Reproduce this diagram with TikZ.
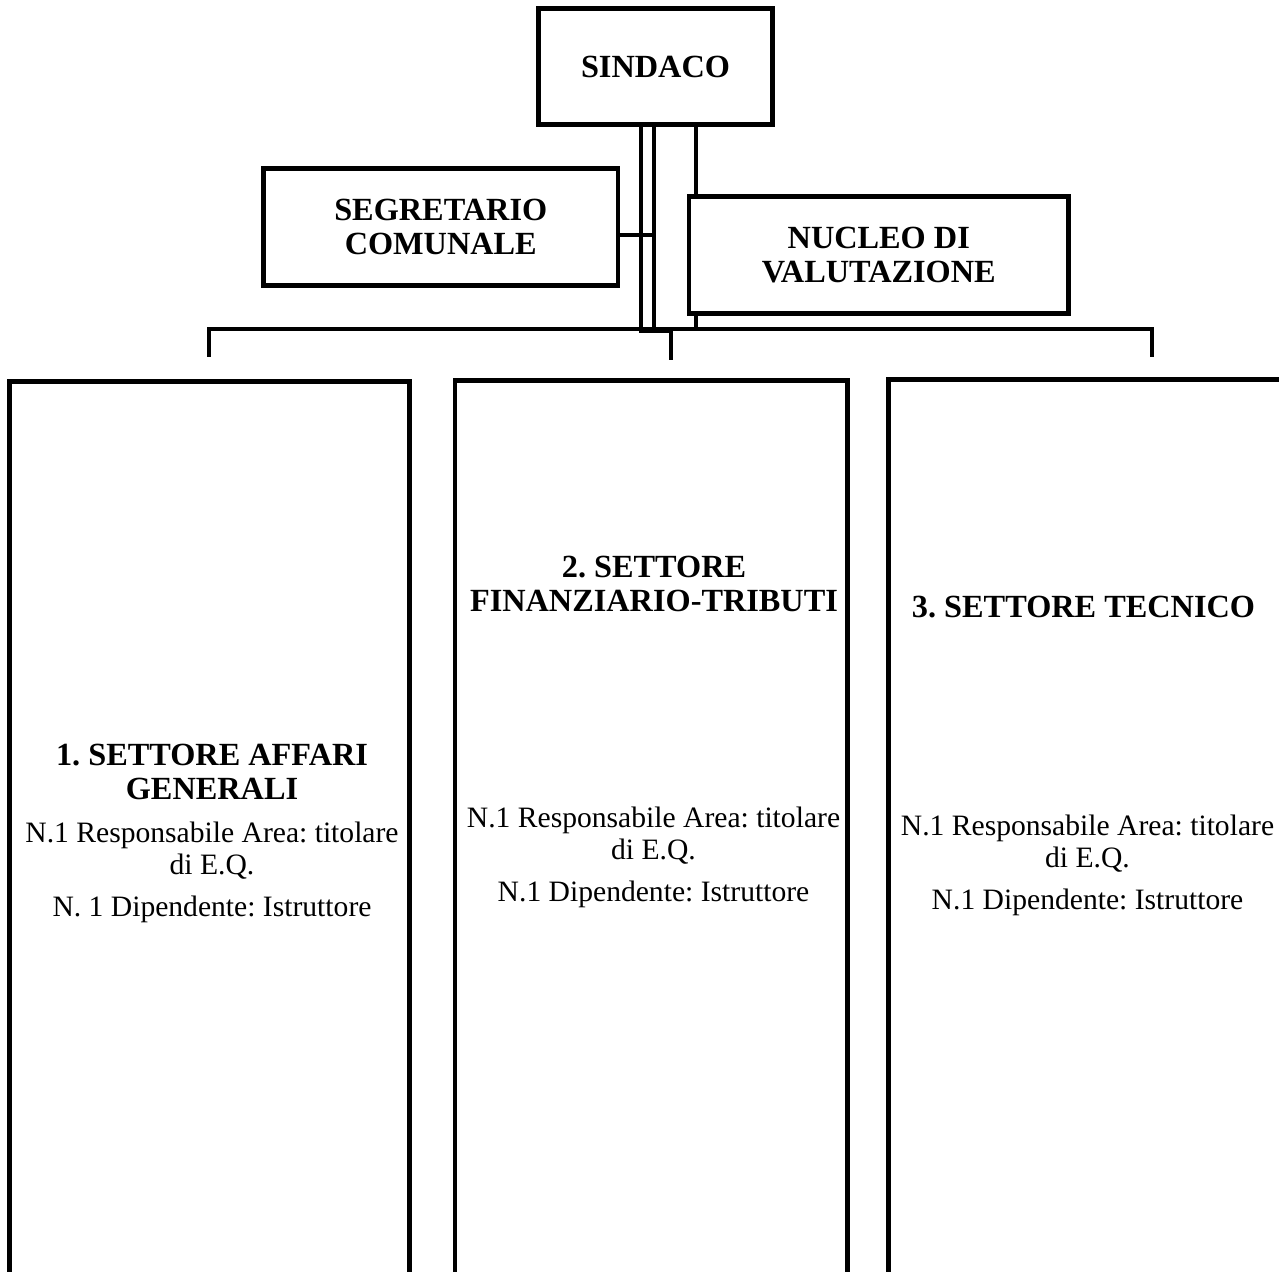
\documentclass[tikz,border=0pt]{standalone}
\usepackage{fontspec}
\setmainfont{Liberation Serif}
\usetikzlibrary{positioning}
\frenchspacing

\newcommand{\titlefont}{\bfseries\fontsize{16.15pt}{16.9pt}\selectfont}
\newcommand{\bodyfont}{\fontsize{14.8pt}{16pt}\selectfont}

\tikzset{
	ufficio/.style={draw, line width=2.4pt, inner sep=0pt, align=center, font=\titlefont},
	settore/.style={draw, line width=2.4pt, inner sep=0pt},
	titolo/.style={anchor=north, inner sep=0pt, align=center, font=\titlefont},
	dettaglio/.style={anchor=north, inner sep=0pt, align=center, font=\bodyfont},
	linea/.style={line width=2.4pt},
}

\begin{document}
\begin{tikzpicture}[x=0.5pt, y=-0.5pt]
		
		% ---------------------
		% Proper size --- Bounding box
		\useasboundingbox (0,0) rectangle (1279,1272);
		\clip (0,0) rectangle (1279,1272);
		
		% ---------------------
		% Vertici
		
		\node[ufficio, minimum width=117pt, minimum height=58pt] (Sindaco) at (655.5,66.5) {SINDACO};
		\node[ufficio, minimum width=177.25pt, minimum height=58.5pt] (Segretario) at (440.75,227) {SEGRETARIO\\COMUNALE};
		\node[ufficio, minimum width=189.75pt, minimum height=58.5pt] (Nucleo) at (878.75,255) {NUCLEO DI\\VALUTAZIONE};
		
		\node[settore, minimum width=200pt, minimum height=459.25pt] (Settore1) at (209.5,840.75) {};
		\node[settore, minimum width=196.25pt, minimum height=459.75pt] (Settore2) at (651.25,840.25) {};
		\node[settore, minimum width=205.75pt, minimum height=460.25pt] (Settore3) at (1094.25,839.75) {};
		
		% ---------------------
		% Testi dei settori
		
		\node[titolo] (Tit1) at (212,744) {1. SETTORE AFFARI\\GENERALI};
		\node[dettaglio] (Det1) at (212,822) {N.1 Responsabile Area: titolare\\di E.Q.\\[4.8pt]N. 1 Dipendente: Istruttore};
		
		\node[titolo] (Tit2) at (654,556) {2. SETTORE\\FINANZIARIO-TRIBUTI};
		\node[dettaglio] (Det2) at (653.5,807) {N.1 Responsabile Area: titolare\\di E.Q.\\[4.8pt]N.1 Dipendente: Istruttore};
		
		\node[titolo] (Tit3) at (1083.5,595.5) {3. SETTORE TECNICO};
		\node[dettaglio] (Det3) at (1087.5,815) {N.1 Responsabile Area: titolare\\di E.Q.\\[4.8pt]N.1 Dipendente: Istruttore};
		
		% ---------------------
		% Punti dei collegamenti
		
		\coordinate (ColA) at (641,331);
		\coordinate (ColB) at (654,331);
		\coordinate (ColC) at (696,329);
		\coordinate (Innesto) at (654,235);
		\coordinate (Nodo) at (671,331);
		\coordinate (Discesa2) at (671,360);
		\coordinate (Discesa1) at (209,357);
		\coordinate (Discesa3) at (1152,357);
		
		% ---------------------
		\draw[linea] (Sindaco.south -| ColA) -- (ColA) -- (Nodo) -- (Discesa2);
		\draw[linea] (Sindaco.south -| ColB) -- (ColB);
		\draw[linea] (Segretario.east |- Innesto) -- (Innesto);
		
		\draw[linea] (Sindaco.south -| ColC) -- (Nucleo.north -| ColC);
		\draw[linea] (Nucleo.south -| ColC) -- (ColC);
		
		\draw[linea] (Discesa1) -- (Discesa1 |- ColC) -- (Discesa3 |- ColC) -- (Discesa3);
		
\end{tikzpicture}
\end{document}
